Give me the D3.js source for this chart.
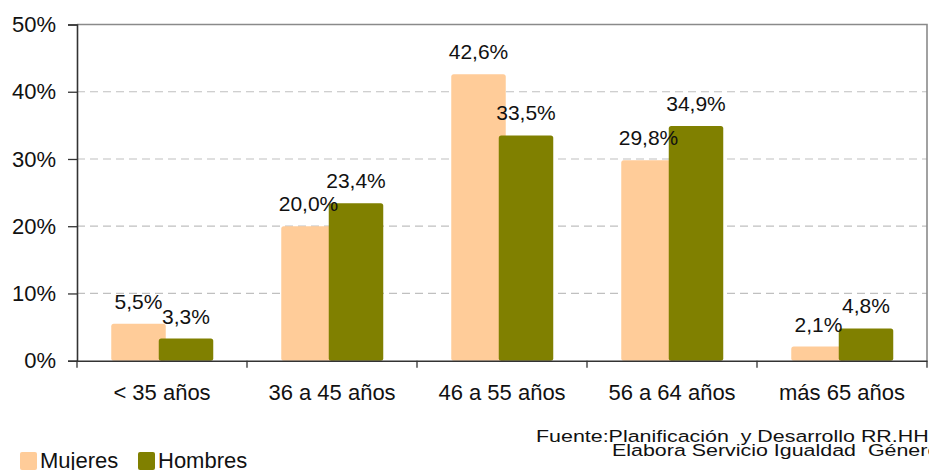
<!DOCTYPE html>
<html>
<head>
<meta charset="utf-8">
<script src="https://cdn.jsdelivr.net/npm/d3@7"></script>
<style>
  html, body { margin: 0; padding: 0; background: #fff; }
  svg { display: block; font-family: "Liberation Sans", Arial, sans-serif; }
</style>
</head>
<body>
<svg id="chart" width="929" height="470"></svg>
<script>
const categories = ["< 35 años", "36 a 45 años", "46 a 55 años", "56 a 64 años", "más 65 años"];
const seriesNames = ["Mujeres", "Hombres"];
const mujeres = [5.5, 20.0, 42.6, 29.8, 2.1];
const hombres = [3.3, 23.4, 33.5, 34.9, 4.8];
const yTicks = [0, 10, 20, 30, 40, 50];
const colors = ["#FFCC99", "#808000"];
const sourceLines = ["Fuente:Planificación  y Desarrollo RR.HH", "Elabora Servicio Igualdad  Género"];

(function () {
const svg = d3.select("#chart");
const pLeft = 77, pRight = 927, pTop = 24.5, pBottom = 360.7;
const barW = 54.5;

const x0 = d3.scaleBand().domain(categories).range([pLeft, pRight]).padding(0);
// bar centres inside each category band (bars overlap slightly, as in the reference)
const x1 = d3.scalePoint().domain(seriesNames).range([61.5, 109]);
const y = d3.scaleLinear().domain([0, 50]).range([pBottom, pTop]);

const fmt = v => v.toFixed(1).replace(".", ",") + "%";

// gridlines
svg.append("g").selectAll("line").data(yTicks.filter(t => t > 0 && t < 50)).join("line")
  .attr("x1", pLeft).attr("x2", pRight)
  .attr("y1", d => y(d)).attr("y2", d => y(d))
  .attr("stroke", "#c0c0c0").attr("stroke-width", 1.2).attr("stroke-dasharray", "8,5");

// plot border (top and right)
svg.append("path")
  .attr("d", `M${pLeft},${y(50)}H${pRight}V${pBottom}`)
  .attr("fill", "none").attr("stroke", "#8a8a8a").attr("stroke-width", 1.6);

// bars
const data = categories.map((c, i) => ({ cat: c, vals: [mujeres[i], hombres[i]] }));
const groups = svg.append("g").selectAll("g").data(data).join("g")
  .attr("transform", d => `translate(${x0(d.cat)},0)`);

groups.selectAll("rect").data(d => d.vals.map((v, j) => ({ s: seriesNames[j], v, j }))).join("rect")
  .attr("x", d => x1(d.s) - barW / 2)
  .attr("width", barW)
  .attr("y", d => y(d.v))
  .attr("height", d => pBottom - y(d.v))
  .attr("rx", 2.5)
  .attr("fill", d => colors[d.j]);

groups.selectAll("text").data(d => d.vals.map((v, j) => ({ s: seriesNames[j], v, j }))).join("text")
  .attr("x", d => x1(d.s))
  .attr("y", d => y(d.v) - 15)
  .attr("text-anchor", "middle")
  .attr("font-size", 21)
  .attr("fill", "#111")
  .text(d => fmt(d.v));

// y axis
const yAxis = d3.axisLeft(y).tickValues(yTicks).tickFormat(d => d + "%").tickSize(9).tickPadding(12);
const gy = svg.append("g").attr("transform", `translate(${pLeft},0)`).call(yAxis);
gy.select(".domain").attr("stroke", "#333").attr("stroke-width", 1.6);
gy.selectAll(".tick line").attr("stroke", "#333").attr("stroke-width", 1.3);
gy.selectAll(".tick text").attr("font-size", 22).attr("fill", "#111")
  .attr("font-family", "'Liberation Sans', Arial, sans-serif");

// x axis
const xAxis = d3.axisBottom(x0).tickSize(0).tickPadding(24);
const gx = svg.append("g").attr("transform", `translate(0,${pBottom})`).call(xAxis);
gx.select(".domain").attr("stroke", "#333").attr("stroke-width", 1.6);
gx.selectAll(".tick text").attr("font-size", 22).attr("fill", "#111")
  .attr("font-family", "'Liberation Sans', Arial, sans-serif");
// category boundary ticks
const bounds = categories.map(c => x0(c)).concat([pRight]);
svg.append("g").selectAll("line").data(bounds).join("line")
  .attr("x1", d => d).attr("x2", d => d)
  .attr("y1", pBottom).attr("y2", pBottom + 7)
  .attr("stroke", "#333").attr("stroke-width", 1.3);

// legend
const legend = svg.append("g");
const legX = [20, 138];
seriesNames.forEach((s, i) => {
  legend.append("rect").attr("x", legX[i]).attr("y", 452).attr("width", 17).attr("height", 18)
    .attr("rx", 2).attr("fill", colors[i]);
  legend.append("text").attr("x", legX[i] + 20).attr("y", 467.5)
    .attr("font-size", 22).attr("fill", "#111").text(s);
});

// source (horizontally stretched text as in the reference)
svg.append("text").attr("transform", "translate(536,441.5) scale(1.26,1)")
  .attr("font-size", 17).attr("fill", "#111")
  .style("white-space", "pre").text(sourceLines[0]);
svg.append("text").attr("transform", "translate(612,456) scale(1.26,1)")
  .attr("font-size", 17).attr("fill", "#111")
  .style("white-space", "pre").text(sourceLines[1]);
})();
</script>
</body>
</html>
